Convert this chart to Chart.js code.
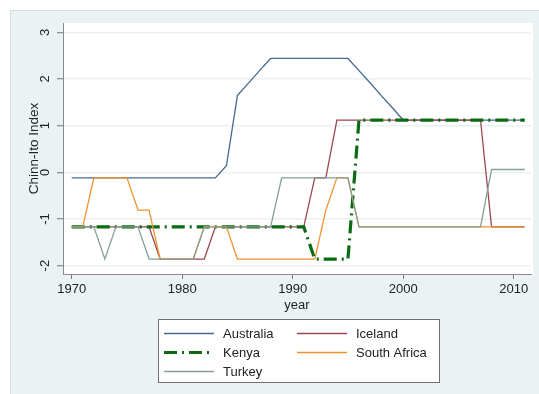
<!DOCTYPE html>
<html>
<head>
<meta charset="utf-8">
<script src="https://cdn.jsdelivr.net/npm/chart.js@4"></script>
<style>
  html, body { margin: 0; padding: 0; background: #ffffff; }
  canvas { display: block; }
</style>
</head>
<body>
<canvas id="chart" width="539" height="394"></canvas>
<script>
// Capital account openness (Chinn-Ito index), 1970-2011
const years = [1970, 1971, 1972, 1973, 1974, 1975, 1976, 1977, 1978, 1979,
               1980, 1981, 1982, 1983, 1984, 1985, 1986, 1987, 1988, 1989,
               1990, 1991, 1992, 1993, 1994, 1995, 1996, 1997, 1998, 1999,
               2000, 2001, 2002, 2003, 2004, 2005, 2006, 2007, 2008, 2009,
               2010, 2011];

const australia = [-0.12, -0.12, -0.12, -0.12, -0.12, -0.12, -0.12, -0.12, -0.12, -0.12,
                   -0.12, -0.12, -0.12, -0.12, 0.14, 1.65, 1.91, 2.18, 2.44, 2.44,
                   2.44, 2.44, 2.44, 2.44, 2.44, 2.44, 2.18, 1.92, 1.65, 1.39,
                   1.12, 1.12, 1.12, 1.12, 1.12, 1.12, 1.12, 1.12, 1.12, 1.12,
                   1.12, 1.12];

const iceland = [-1.17, -1.17, -1.17, -1.17, -1.17, -1.17, -1.17, -1.17, -1.86, -1.86,
                 -1.86, -1.86, -1.86, -1.17, -1.17, -1.17, -1.17, -1.17, -1.17, -1.17,
                 -1.17, -1.17, -0.12, -0.12, 1.12, 1.12, 1.12, 1.12, 1.12, 1.12,
                 1.12, 1.12, 1.12, 1.12, 1.12, 1.12, 1.12, 1.12, -1.17, -1.17,
                 -1.17, -1.17];

const kenya = [-1.17, -1.17, -1.17, -1.17, -1.17, -1.17, -1.17, -1.17, -1.17, -1.17,
               -1.17, -1.17, -1.17, -1.17, -1.17, -1.17, -1.17, -1.17, -1.17, -1.17,
               -1.17, -1.17, -1.86, -1.86, -1.86, -1.86, 1.12, 1.12, 1.12, 1.12,
               1.12, 1.12, 1.12, 1.12, 1.12, 1.12, 1.12, 1.12, 1.12, 1.12,
               1.12, 1.12];

const southAfrica = [-1.17, -1.17, -0.12, -0.12, -0.12, -0.12, -0.81, -0.81, -1.86, -1.86,
                     -1.86, -1.86, -1.17, -1.17, -1.17, -1.86, -1.86, -1.86, -1.86, -1.86,
                     -1.86, -1.86, -1.86, -0.81, -0.12, -0.12, -1.17, -1.17, -1.17, -1.17,
                     -1.17, -1.17, -1.17, -1.17, -1.17, -1.17, -1.17, -1.17, -1.17, -1.17,
                     -1.17, -1.17];

const turkey = [-1.17, -1.17, -1.17, -1.86, -1.17, -1.17, -1.17, -1.86, -1.86, -1.86,
                -1.86, -1.86, -1.17, -1.17, -1.17, -1.17, -1.17, -1.17, -1.17, -0.12,
                -0.12, -0.12, -0.12, -0.12, -0.12, -0.12, -1.17, -1.17, -1.17, -1.17,
                -1.17, -1.17, -1.17, -1.17, -1.17, -1.17, -1.17, -1.17, 0.06, 0.06,
                0.06, 0.06];

const xTicks = [1970, 1980, 1990, 2000, 2010];
const yTicks = [-2, -1, 0, 1, 2, 3];

const FONT = '"Liberation Sans", Arial, Helvetica, sans-serif';
const TEXT = '#222222';
Chart.defaults.font.family = FONT;
Chart.defaults.color = TEXT;

function points(values) {
  return years.map((yr, i) => ({ x: yr, y: values[i] }));
}

// Light panel behind the graph with a white plot region
const panelPlugin = {
  id: 'panel',
  beforeDraw(chart) {
    const { ctx, chartArea: a, width, height } = chart;
    ctx.save();
    ctx.fillStyle = '#ffffff';
    ctx.fillRect(0, 0, width, height);
    ctx.fillStyle = '#eaf2f3';
    ctx.fillRect(10, 10, width - 10, height - 10);
    ctx.strokeStyle = '#d2dbde';
    ctx.lineWidth = 1;
    ctx.beginPath();
    ctx.moveTo(10.5, height);
    ctx.lineTo(10.5, 10.5);
    ctx.lineTo(width, 10.5);
    ctx.stroke();
    ctx.fillStyle = '#ffffff';
    ctx.fillRect(a.left, a.top, a.right - a.left + 2, a.bottom - a.top);
    ctx.restore();
  }
};

// Two-column boxed legend under the axis title
const boxLegendPlugin = {
  id: 'boxLegend',
  afterDraw(chart) {
    const ctx = chart.ctx;
    const box = { x: 158, y: 319, w: 281, h: 63 };
    const cols = [164, 297];
    const rows = [333, 352, 371];
    ctx.save();
    ctx.fillStyle = '#ffffff';
    ctx.fillRect(box.x, box.y, box.w, box.h);
    ctx.strokeStyle = '#707070';
    ctx.lineWidth = 1;
    ctx.strokeRect(box.x + 0.5, box.y + 0.5, box.w, box.h);
    chart.data.datasets.forEach((ds, i) => {
      const cx = cols[i % 2];
      const cy = rows[Math.floor(i / 2)];
      ctx.strokeStyle = ds.borderColor;
      ctx.lineWidth = ds.borderWidth;
      ctx.setLineDash(ds.borderDash || []);
      ctx.beginPath();
      ctx.moveTo(cx, cy + 0.5);
      ctx.lineTo(cx + 50, cy + 0.5);
      ctx.stroke();
      ctx.setLineDash([]);
      ctx.fillStyle = TEXT;
      ctx.font = '13px ' + FONT;
      ctx.textAlign = 'left';
      ctx.textBaseline = 'middle';
      ctx.fillText(ds.label, cx + 59, cy + 1);
    });
    ctx.restore();
  }
};

new Chart(document.getElementById('chart'), {
  type: 'line',
  data: {
    datasets: [
      { label: 'Australia', data: points(australia), borderColor: '#46688f', borderWidth: 1.3, order: 5 },
      { label: 'Iceland', data: points(iceland), borderColor: '#9a4750', borderWidth: 1.3, order: 4 },
      { label: 'Kenya', data: points(kenya), borderColor: '#0b6a12', borderWidth: 3.2, borderDash: [13, 5, 2, 5], order: 3 },
      { label: 'South Africa', data: points(southAfrica), borderColor: '#f0932f', borderWidth: 1.3, order: 2 },
      { label: 'Turkey', data: points(turkey), borderColor: '#84a095', borderWidth: 1.3, order: 1 }
    ]
  },
  options: {
    responsive: false,
    animation: false,
    devicePixelRatio: 1,
    layout: { padding: { left: 10, top: 23, right: 8, bottom: 81 } },
    elements: { point: { radius: 0 }, line: { tension: 0, borderCapStyle: 'butt', borderJoinStyle: 'miter' } },
    plugins: { legend: { display: false }, tooltip: { enabled: false } },
    scales: {
      x: {
        type: 'linear',
        min: 1969.21,
        max: 2011.57,
        afterBuildTicks(scale) { scale.ticks = xTicks.map(v => ({ value: v })); },
        afterFit(scale) { scale.height = 39; },
        grid: { drawOnChartArea: false, drawTicks: true, tickLength: 5, tickColor: '#777777', tickWidth: 1 },
        border: { color: '#8a8a8a', width: 1 },
        ticks: { color: TEXT, font: { size: 13 }, padding: 3, maxRotation: 0, autoSkip: false, callback: v => String(v) },
        title: { display: true, text: 'year', color: TEXT, font: { size: 13 }, padding: { top: 0, bottom: 0 } }
      },
      y: {
        type: 'linear',
        min: -2.18,
        max: 3.2,
        afterBuildTicks(scale) { scale.ticks = yTicks.map(v => ({ value: v })); },
        afterFit(scale) { scale.width = 53; },
        grid: { color: '#eaf1f3', lineWidth: 1.5, drawTicks: true, tickLength: 6, tickColor: '#777777', tickWidth: 1 },
        border: { color: '#8a8a8a', width: 1 },
        ticks: { color: TEXT, font: { size: 13 }, minRotation: 90, maxRotation: 90, crossAlign: 'center', padding: 6, callback: v => String(v) },
        title: { display: true, text: 'Chinn-Ito Index', color: TEXT, font: { size: 13.5 }, padding: { top: 16, bottom: 0 } }
      }
    }
  },
  plugins: [panelPlugin, boxLegendPlugin]
});
</script>
</body>
</html>
